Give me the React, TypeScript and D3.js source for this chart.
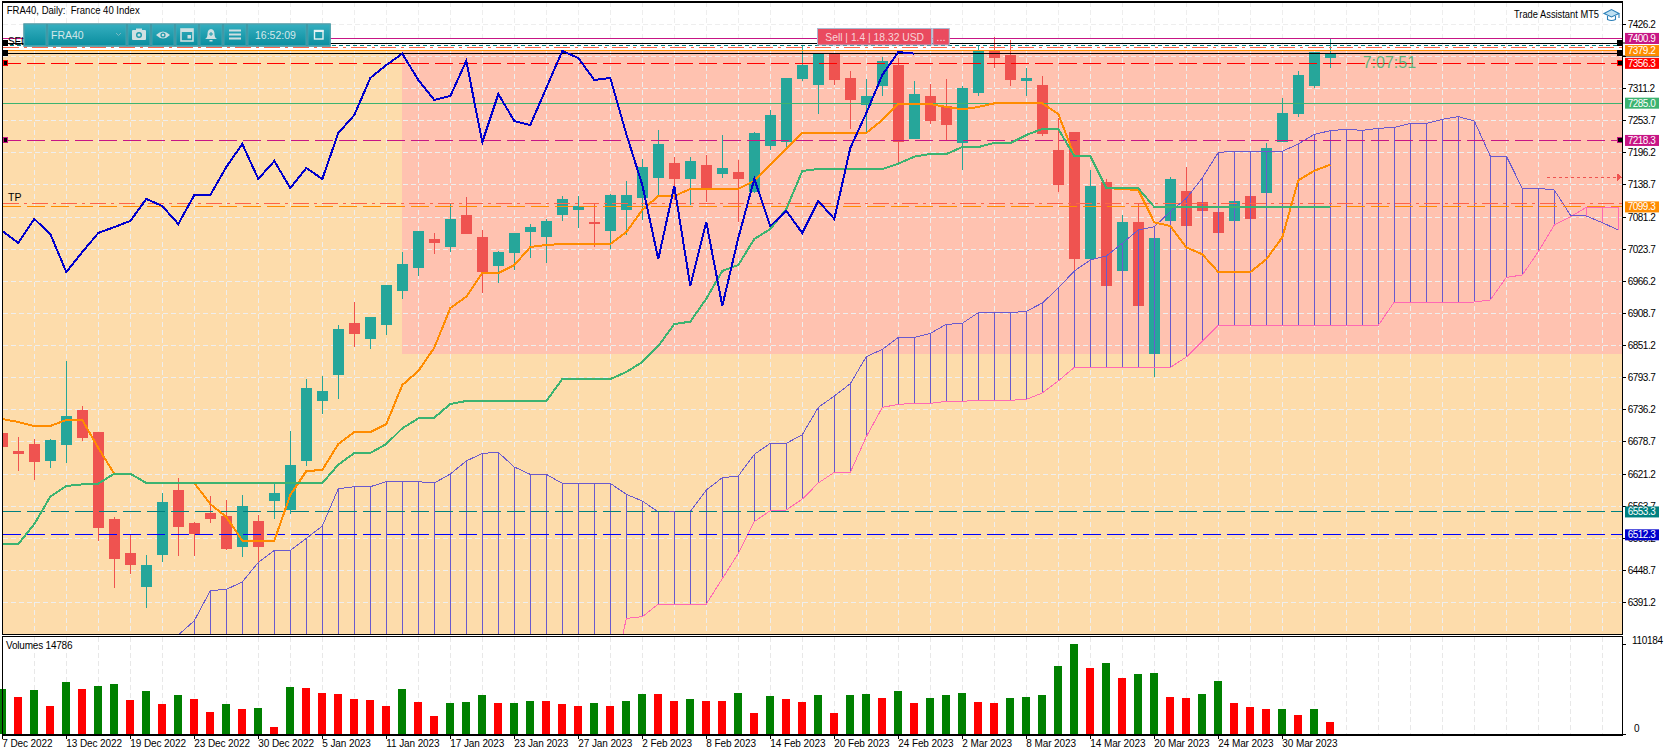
import * as d3 from 'd3';

const opens = [
  6694.5, 6662.3, 6674.8, 6644.4, 6673.0, 6735.7, 6696.3, 6540.6, 6479.7, 6418.8,
  6476.1, 6592.5, 6533.4, 6551.3, 6545.9, 6490.4, 6537.0, 6572.8, 6556.7, 6644.4,
  6751.8, 6798.3, 6891.4, 6862.8, 6887.8, 6948.8, 6989.9, 7041.9, 7027.6, 7084.8,
  7045.4, 6993.5, 7016.8, 7054.4, 7045.4, 7084.8, 7093.8, 7072.3, 7056.2, 7093.8,
  7115.3, 7151.1, 7177.9, 7149.3, 7174.3, 7158.2, 7161.8, 7126.6, 7208.3, 7215.5,
  7328.3, 7317.6, 7373.6, 7330.1, 7281.7, 7315.8, 7353.3, 7220.9, 7297.9, 7279.9,
  7213.7, 7303.2, 7379.0, 7371.2, 7324.7, 7317.6, 7201.2, 7233.4, 7006.1, 7143.9,
  6984.6, 7072.3, 6836.0, 7074.1, 7127.8, 7108.1, 7090.2, 7074.1, 7118.8, 7124.2,
  7215.5, 7265.6, 7315.8, 7366.5,
];
const highs = [
  6694.5, 6687.4, 6683.8, 6683.8, 6823.4, 6742.9, 6696.3, 6544.2, 6511.9, 6476.1,
  6587.1, 6614.0, 6535.2, 6581.7, 6574.6, 6583.5, 6547.7, 6603.2, 6698.1, 6791.2,
  6796.6, 6887.8, 6929.0, 6902.2, 6959.5, 7018.6, 7056.2, 7052.6, 7106.3, 7117.0,
  7058.0, 7020.4, 7052.6, 7068.7, 7077.7, 7118.8, 7118.8, 7106.3, 7122.4, 7145.7,
  7185.1, 7237.0, 7188.6, 7188.6, 7192.2, 7228.0, 7183.3, 7233.4, 7272.8, 7330.1,
  7389.1, 7373.6, 7375.4, 7342.6, 7328.3, 7367.7, 7365.9, 7324.7, 7319.3, 7328.3,
  7315.8, 7387.4, 7403.5, 7398.1, 7348.0, 7333.6, 7258.5, 7233.4, 7165.4, 7149.3,
  7084.8, 7104.5, 7043.7, 7152.9, 7170.8, 7108.1, 7090.2, 7109.9, 7118.8, 7213.7,
  7294.3, 7342.6, 7376.6, 7399.9,
];
const lows = [
  6669.4, 6626.5, 6610.4, 6631.9, 6640.8, 6680.2, 6501.2, 6417.0, 6442.1, 6381.2,
  6463.6, 6474.3, 6474.3, 6533.4, 6485.1, 6472.5, 6461.2, 6540.6, 6549.5, 6635.4,
  6728.5, 6755.4, 6848.5, 6844.9, 6870.0, 6934.5, 6975.6, 7015.0, 7018.6, 7050.8,
  6945.2, 6963.1, 6986.4, 7007.9, 6998.9, 7074.1, 7061.6, 7027.6, 7024.0, 7049.0,
  7075.9, 7117.6, 7111.7, 7102.7, 7108.1, 7151.1, 7072.3, 7123.6, 7201.2, 7204.2,
  7324.7, 7265.6, 7317.6, 7238.8, 7231.6, 7297.9, 7174.3, 7220.9, 7247.7, 7219.1,
  7165.4, 7297.9, 7348.0, 7315.8, 7297.9, 7226.2, 7126.0, 6980.4, 7006.1, 6957.7,
  6984.6, 6921.9, 6794.8, 7074.1, 7065.1, 7092.0, 7052.6, 7074.1, 7077.7, 7124.2,
  7215.5, 7260.3, 7312.2, 7348.0,
];
const closes = [
  6669.4, 6656.9, 6642.6, 6682.0, 6724.9, 6685.6, 6524.5, 6469.0, 6458.2, 6458.2,
  6571.0, 6526.2, 6513.7, 6540.6, 6486.9, 6563.8, 6490.4, 6587.1, 6637.2, 6775.1,
  6769.7, 6880.7, 6871.7, 6902.2, 6959.5, 6997.1, 7056.2, 7034.7, 7077.7, 7050.8,
  6982.8, 7018.6, 7052.6, 7063.3, 7074.1, 7113.5, 7100.9, 7068.7, 7120.6, 7120.6,
  7170.8, 7211.9, 7149.3, 7181.5, 7133.2, 7169.0, 7149.3, 7231.6, 7263.8, 7330.1,
  7353.3, 7373.6, 7326.5, 7290.7, 7297.9, 7360.5, 7215.5, 7301.4, 7253.1, 7245.9,
  7312.2, 7378.4, 7365.9, 7326.5, 7330.1, 7229.8, 7138.5, 7006.1, 7136.7, 6957.7,
  7072.3, 6921.9, 7043.7, 7149.3, 7065.1, 7092.0, 7052.6, 7109.9, 7077.7, 7204.8,
  7267.4, 7335.4, 7376.6, 7373.6,
];
const tenkan = [
  6719.6, 6714.3, 6707.1, 6707.1, 6717.9, 6717.9, 6667.7, 6621.8, 6621.8, 6605.1,
  6605.1, 6605.1, 6605.1, 6567.5, 6544.2, 6501.8, 6501.8, 6501.8, 6583.6, 6626.5,
  6628.4, 6674.9, 6696.4, 6696.4, 6710.7, 6780.5, 6805.6, 6847.3, 6918.3, 6938.6,
  6981.0, 6981.0, 6995.3, 7027.5, 7031.1, 7032.9, 7032.9, 7032.9, 7032.9, 7054.4,
  7093.8, 7118.8, 7118.8, 7131.4, 7131.4, 7131.4, 7131.4, 7145.7, 7174.3, 7202.9,
  7231.6, 7231.6, 7231.6, 7231.6, 7231.6, 7254.9, 7283.5, 7283.5, 7283.5, 7278.2,
  7274.0, 7278.2, 7284.7, 7284.7, 7284.7, 7284.7, 7265.6, 7191.0, 7191.0, 7133.1,
  7131.4, 7129.6, 7071.7, 7065.1, 7026.9, 7014.4, 6982.8, 6982.8, 6982.8, 7005.5,
  7044.8, 7146.9, 7164.2, 7174.9,
];
const kijun = [
  6495.9, 6495.9, 6531.7, 6580.6, 6599.7, 6602.7, 6603.9, 6621.8, 6621.8, 6605.1,
  6605.1, 6605.1, 6605.1, 6605.1, 6605.1, 6605.1, 6605.1, 6605.1, 6605.1, 6605.1,
  6605.1, 6637.9, 6658.8, 6658.8, 6674.9, 6703.0, 6720.8, 6722.0, 6746.5, 6751.9,
  6751.9, 6751.9, 6751.9, 6751.9, 6751.9, 6791.2, 6791.2, 6791.2, 6791.2, 6803.8,
  6821.7, 6850.3, 6889.7, 6893.9, 6935.0, 6984.6, 6995.3, 7041.9, 7059.8, 7095.6,
  7163.6, 7167.2, 7167.2, 7167.2, 7167.2, 7167.2, 7176.7, 7189.3, 7194.0, 7194.0,
  7206.5, 7206.5, 7213.7, 7213.7, 7228.0, 7238.8, 7238.8, 7190.4, 7190.4, 7133.2,
  7133.2, 7132.6, 7099.1, 7099.1, 7099.1, 7099.1, 7099.1, 7099.1, 7099.1, 7099.1,
  7099.1, 7099.1, 7099.1, 7099.1,
];
// lagging span, plotted from the first bar
const chikou = [
  7056.2, 7034.7, 7077.7, 7050.8, 6982.8, 7018.6, 7052.6, 7063.3, 7074.1, 7113.5,
  7100.9, 7068.7, 7120.6, 7120.6, 7170.8, 7211.9, 7149.3, 7181.5, 7133.2, 7169.0,
  7149.3, 7231.6, 7263.8, 7330.1, 7353.3, 7373.6, 7326.5, 7290.7, 7297.9, 7360.5,
  7215.5, 7301.4, 7253.1, 7245.9, 7312.2, 7378.4, 7365.9, 7326.5, 7330.1, 7229.8,
  7138.5, 7006.1, 7136.7, 6957.7, 7072.3, 6921.9, 7043.7, 7149.3, 7065.1, 7092.0,
  7052.6, 7109.9, 7077.7, 7204.8, 7267.4, 7335.4, 7376.6, 7373.6,
];
// both cloud spans start at bar 11
const cloudStart = 11;
const spanA = [
  6333.0, 6358.6, 6412.4, 6414.7, 6427.9, 6463.1, 6484.5, 6484.5, 6506.0, 6528.1,
  6594.9, 6598.5, 6598.5, 6607.5, 6607.5, 6607.5, 6605.1, 6621.2, 6644.5, 6658.2,
  6660.0, 6633.7, 6620.6, 6620.6, 6604.5, 6604.5, 6604.5, 6604.5, 6584.8, 6572.9,
  6553.2, 6553.2, 6554.4, 6592.5, 6614.6, 6617.6, 6656.4, 6676.1, 6676.1, 6691.6,
  6740.5, 6760.8, 6782.9, 6831.2, 6844.4, 6865.8, 6865.8, 6873.0, 6889.1, 6890.9,
  6910.0, 6910.0, 6910.0, 6912.4, 6927.3, 6954.1, 6984.6, 7004.3, 7011.4, 7034.1,
  7058.0, 7063.9, 7090.8, 7114.6, 7151.1, 7197.0, 7198.8, 7198.8, 7198.8, 7198.8,
  7211.9, 7229.2, 7235.8, 7238.2, 7236.4, 7239.9, 7241.7, 7248.9, 7248.9, 7256.1,
  7260.9, 7253.1, 7190.4, 7190.4, 7132.6, 7132.6, 7129.6, 7084.8, 7083.0, 7071.1,
  7058.0,
];
const spanB = [
  6227, 6227, 6227, 6227, 6227, 6227, 6227, 6227, 6227, 6227,
  6227, 6227, 6227, 6227, 6227, 6227, 6227, 6227, 6227, 6227,
  6227, 6227, 6227, 6227, 6227, 6227, 6227, 6227, 6362.8, 6365.8,
  6388.5, 6388.5, 6388.5, 6388.5, 6433.8, 6479.2, 6535.9, 6555.6, 6556.8, 6576.4,
  6605.1, 6624.2, 6624.2, 6688.0, 6740.5, 6745.9, 6747.7, 6747.7, 6751.3, 6751.3,
  6753.1, 6753.1, 6753.1, 6754.9, 6766.2, 6787.7, 6812.1, 6812.1, 6812.1, 6812.1,
  6812.1, 6812.1, 6812.1, 6830.6, 6858.7, 6887.3, 6887.3, 6887.3, 6887.3, 6887.3,
  6887.3, 6887.3, 6887.3, 6887.3, 6887.3, 6887.3, 6929.1, 6929.1, 6929.1, 6929.1,
  6929.1, 6929.1, 6932.7, 6973.2, 6977.4, 7019.2, 7066.9, 7081.2, 7098.6, 7098.6,
  7098.6,
];
const volumes = [
  55080, 45288, 53856, 34272, 63648, 55080, 58752, 61200, 41616, 52632,
  36720, 47736, 42840, 26928, 36720, 30600, 31824, 8568, 57528, 56304,
  50184, 48960, 42840, 41616, 34272, 55080, 39168, 22032, 37944, 39168,
  47736, 37944, 37944, 40392, 40000, 36720, 34272, 37944, 34272, 40392,
  48960, 48500, 40392, 42840, 40392, 40000, 50184, 25704, 46512, 42840,
  39168, 47736, 25704, 47736, 48960, 44064, 52632, 37944, 44064, 47736,
  50184, 39168, 37944, 44064, 45288, 47736, 83232, 110184, 80784, 86904,
  68544, 73440, 74664, 45288, 44064, 48960, 64872, 37944, 33048, 30600,
  31000, 23256, 30600, 14786,
];
const priceTicks = [
  7426.2, 7368.7, 7311.2, 7253.7, 7196.2, 7138.7, 7081.2, 7023.7, 6966.2, 6908.7,
  6851.2, 6793.7, 6736.2, 6678.7, 6621.2, 6563.7, 6506.2, 6448.7, 6391.2,
];
// this tick sits fully under the level tags
const hiddenTick = 7368.7;
const dateLabels = [
  '7 Dec 2022', '13 Dec 2022', '19 Dec 2022', '23 Dec 2022', '30 Dec 2022', '5 Jan 2023', '11 Jan 2023',
  '17 Jan 2023', '23 Jan 2023', '27 Jan 2023', '2 Feb 2023', '8 Feb 2023', '14 Feb 2023', '20 Feb 2023',
  '24 Feb 2023', '2 Mar 2023', '8 Mar 2023', '14 Mar 2023', '20 Mar 2023', '24 Mar 2023', '30 Mar 2023',
];
const gridBars = d3.range(0, 102, 2);
const sellPrice = 7400.9;
const tradeOpen = 7392.7;
const slTeal = 7388.6;
const slTomato = 7385.0;
const askPrice = 7379.2;
const bidPrice = 7374.2;
const stopPrice = 7356.3;
const greenLevel = 7285.0;
const pinkLevel = 7218.3;
const tpTomato = 7105.7;
const tpPrice = 7099.3;
const tealLevel = 6553.3;
const blueLevel = 6512.3;
const zoneTop = 7379.2;
const zoneBottom = 6836.6;
const zoneBar = 25;

const W = 1670;
const H = 753;
const LEFT = 2.5;
const RIGHT = 1622.5;
const MAIN_BOTTOM = 634.3;
const VOL_TOP = 636.5;
const VOL_BOTTOM = 735;

const TEAL = '#26a69a';
const RED = '#ef5350';
const FONT = '"Liberation Sans", Arial, sans-serif';

const x = d3.scaleLinear().domain([0, 100]).range([2.3, 1602.3]);
const y = d3.scaleLinear().domain([7426.2, 6391.2]).range([24.3, 602.5]);
const vy = d3.scaleLinear().domain([0, 110184]).range([734, 644]);

const seriesPath = (values: number[], start = 0) =>
  d3
    .line<number>()
    .x((_, i) => x(i + start))
    .y((d) => y(d))(values) ?? '';

type Level = { value: number; color: string; dash?: string };

const levels: Level[] = [
  { value: sellPrice, color: '#c71585' },
  { value: tradeOpen, color: '#000000' },
  { value: slTeal, color: '#008080', dash: '4 3' },
  { value: slTomato, color: '#ff6347', dash: '16 5 3 5' },
  { value: askPrice, color: '#ff8c00' },
  { value: bidPrice, color: '#000000' },
  { value: stopPrice, color: '#ff0000', dash: '18 6' },
  { value: greenLevel, color: '#3cb371' },
  { value: pinkLevel, color: '#c71585', dash: '18 6' },
  { value: tpTomato, color: '#ff6347', dash: '16 5 3 5' },
  { value: tpPrice, color: '#ff8c00', dash: '18 6' },
  { value: tealLevel, color: '#008080', dash: '18 6' },
  { value: blueLevel, color: '#0000ff', dash: '18 6' },
];

const tags = [
  { value: sellPrice, color: '#c71585' },
  { value: askPrice, color: '#ff8c00' },
  { value: stopPrice, color: '#ff0000' },
  { value: greenLevel, color: '#3cb371' },
  { value: pinkLevel, color: '#c71585' },
  { value: tpPrice, color: '#ff8c00' },
  { value: tealLevel, color: '#008080' },
  { value: blueLevel, color: '#0000cd' },
];

const markers = [
  { value: tradeOpen, border: '#000000' },
  { value: bidPrice, border: '#000000' },
  { value: stopPrice, border: '#ff0000' },
  { value: pinkLevel, border: '#c71585' },
];

const toolButtons = [
  [24.7, 21.3],
  [48, 78],
  [128, 22],
  [152, 22],
  [176, 22],
  [200, 22],
  [224, 22],
  [248, 58],
  [308, 22],
];

function Toolbar() {
  const ic = '#cfe0e2';
  return (
    <g fontFamily={FONT}>
      <rect x={23.3} y={23.3} width={307.5} height={23.5} fill="#3d8f9c" />
      {toolButtons.map(([bx, bw]) => (
        <rect key={bx} x={bx} y={24.5} width={bw} height={21} fill="url(#toolGrad)" stroke="#4aa7b4" strokeWidth={0.8} />
      ))}
      <text x={51} y={38.5} fontSize={10.5} fill="#d4e8ea">FRA40</text>
      <path d="M116 33l2.5 2.5 2.5-2.5" fill="none" stroke="#79b9c2" strokeWidth={1} />
      {/* camera */}
      <rect x={132} y={30} width={14} height={10} rx={1} fill={ic} />
      <rect x={136} y={28.5} width={6} height={2} fill={ic} />
      <circle cx={139} cy={35} r={3} fill="#1d9aaa" />
      <circle cx={139} cy={35} r={1.6} fill={ic} />
      {/* eye */}
      <path d="M156 35q7-7 14 0q-7 7-14 0z" fill={ic} />
      <circle cx={163} cy={35} r={2.6} fill="#1d9aaa" />
      <circle cx={163} cy={35} r={1.3} fill={ic} />
      {/* calendar */}
      <rect x={181} y={29} width={12} height={12} fill="none" stroke={ic} strokeWidth={1.6} />
      <rect x={181} y={29} width={12} height={3} fill={ic} />
      <rect x={187.5} y={35} width={3.5} height={3.5} fill={ic} />
      {/* bell */}
      <path d="M205 39q2.5-1 2.5-5q0-4.5 3.5-5q3.500 .5 3.500 5q0 4 2.500 5z" fill={ic} />
      <rect x={209.5} y={40} width={3} height={1.5} fill={ic} />
      <path d="M211 32v4M209 34h4" stroke="#1d9aaa" strokeWidth={1} />
      {/* menu */}
      <path d="M229 30.5h12M229 34.5h12M229 38.5h12" stroke={ic} strokeWidth={1.8} />
      <text x={255} y={38.5} fontSize={10.5} fill="#d4e8ea">16:52:09</text>
      {/* window */}
      <rect x={314.5} y={30.5} width={8.5} height={8.5} fill="none" stroke="#e6f2f3" strokeWidth={1.4} />
      <rect x={314} y={30} width={9.5} height={2} fill="#e6f2f3" />
    </g>
  );
}

export default function App() {
  const mainBars = closes.map((c, i) => ({ c, o: opens[i], h: highs[i], l: lows[i], i }));

  return (
    <svg
      width={W}
      height={H}
      viewBox={`0 0 ${W} ${H}`}
      style={{ position: 'absolute', left: 0, top: 0, background: '#fff', display: 'block' }}
      fontFamily={FONT}
    >
      <defs>
        <clipPath id="mainClip">
          <rect x={LEFT} y={2} width={RIGHT - LEFT} height={MAIN_BOTTOM - 2} />
        </clipPath>
        <linearGradient id="toolGrad" x1="0" y1="0" x2="0" y2="1">
          <stop offset="0" stopColor="#35aebf" />
          <stop offset="1" stopColor="#0a8e9f" />
        </linearGradient>
      </defs>

      <g clipPath="url(#mainClip)" shapeRendering="crispEdges">
        {/* zones */}
        <rect x={LEFT} y={y(zoneTop)} width={RIGHT - LEFT} height={MAIN_BOTTOM - y(zoneTop)} fill="#fddcab" />
        <rect x={x(zoneBar)} y={y(zoneTop)} width={RIGHT - x(zoneBar)} height={y(zoneBottom) - y(zoneTop)} fill="#ffc2b0" />

        {/* grid */}
        {priceTicks.map((t) => (
          <line key={t} x1={LEFT} x2={RIGHT} y1={y(t)} y2={y(t)} stroke="#eeeeee" strokeDasharray="5 3" />
        ))}
        {gridBars.map((b) => (
          <line key={b} x1={x(b)} x2={x(b)} y1={2} y2={MAIN_BOTTOM} stroke="#eeeeee" strokeDasharray="5 3" />
        ))}

        {/* candles */}
        {mainBars.map((b) => {
          const color = b.c >= b.o ? TEAL : RED;
          return (
            <g key={b.i} fill={color} stroke={color}>
              <line x1={x(b.i)} x2={x(b.i)} y1={y(b.h)} y2={y(b.l)} strokeWidth={1} />
              <rect
                x={x(b.i) - 5.5}
                y={y(Math.max(b.o, b.c))}
                width={11}
                height={Math.max(1, Math.abs(y(b.o) - y(b.c)))}
                stroke="none"
              />
            </g>
          );
        })}

        {/* cloud */}
        {spanA.map((a, i) => {
          const b = spanB[i];
          return (
            <line
              key={i}
              x1={x(i + cloudStart)}
              x2={x(i + cloudStart)}
              y1={y(a)}
              y2={y(b)}
              stroke={a >= b ? '#6a5acd' : '#ff69b4'}
              strokeWidth={1}
            />
          );
        })}
        <path d={seriesPath(spanB.slice(27), cloudStart + 27)} fill="none" stroke="#ff69b4" strokeWidth={1} />
        <path d={seriesPath(spanA, cloudStart)} fill="none" stroke="#6a5acd" strokeWidth={1} />

        {/* price levels */}
        {levels.map((l) => (
          <line
            key={`${l.value}-${l.color}`}
            x1={LEFT}
            x2={RIGHT}
            y1={y(l.value)}
            y2={y(l.value)}
            stroke={l.color}
            strokeWidth={1}
            strokeDasharray={l.dash}
          />
        ))}

        <path d={seriesPath(tenkan)} fill="none" stroke="#ff8c00" strokeWidth={2} />
        <path d={seriesPath(kijun)} fill="none" stroke="#3cb371" strokeWidth={2} />
        <path d={seriesPath(chikou)} fill="none" stroke="#0000cd" strokeWidth={2} />

        {/* tp arrow */}
        <line x1={1546.7} x2={1617} y1={177.3} y2={177.3} stroke="#ef5350" strokeDasharray="3 3" />
        <path d="M1617 173.3l5 4-5 4z" fill="#ef5350" />

        {/* line anchors */}
        {markers.map((m) =>
          [LEFT, RIGHT - 5.5].map((mx) => (
            <rect
              key={`${m.value}-${mx}`}
              x={mx + 0.5}
              y={y(m.value) - 2.5}
              width={4.5}
              height={4.5}
              fill="#000"
              stroke={m.border}
            />
          )),
        )}
      </g>

      {/* text on the chart */}
      <text x={8} y={45} fontSize={10} letterSpacing={-0.2} fill="#000">SELL</text>
      <text x={8} y={201} fontSize={10.5} fill="#000">TP</text>
      <text x={6.7} y={14} fontSize={10.5} fill="#000" textLength={133} lengthAdjust="spacingAndGlyphs" style={{ whiteSpace: 'pre' }}>
        FRA40, Daily:  France 40 Index
      </text>
      <text x={1514} y={17.5} fontSize={10.5} fill="#000" textLength={85} lengthAdjust="spacingAndGlyphs">
        Trade Assistant MT5
      </text>
      <g fill="none" stroke="#2b7fb8" strokeWidth={1.1}>
        <path d="M1604 13.5l7.5-4 7.500 4-7.500 3.500z" fill="#bfe0f2" />
        <path d="M1607.5 16v3.5q4 2 8 0v-3.500" />
        <path d="M1619 14v4" />
      </g>
      <text x={1362.7} y={67.5} fontSize={16} fill="#3cb371" fillOpacity={0.85}>7:07:51</text>

      {/* sell button */}
      <rect x={817.5} y={28.5} width={114} height={16.5} fill="#ea4a5f" stroke="#aab8d0" />
      <rect x={932.8} y={28.5} width={16.5} height={16.5} fill="#ea4a5f" stroke="#aab8d0" />
      <text x={825.3} y={41} fontSize={11.5} fill="#f7d5da" textLength={98.7} lengthAdjust="spacingAndGlyphs">
        Sell | 1.4 | 18.32 USD
      </text>
      <text x={941} y={41} fontSize={11.5} fill="#f7d5da" textAnchor="middle">...</text>

      <Toolbar />

      {/* volumes */}
      <g shapeRendering="crispEdges">
        {gridBars.map((b) => (
          <line key={b} x1={x(b)} x2={x(b)} y1={VOL_TOP} y2={VOL_BOTTOM} stroke="#e8e8e8" strokeDasharray="5 3" />
        ))}
        {volumes.map((v, i) => (
          <rect
            key={i}
            x={x(i) - 4}
            y={vy(v)}
            width={8}
            height={vy(0) - vy(v)}
            fill={i === 0 || v >= volumes[i - 1] ? '#008000' : '#ff0000'}
          />
        ))}
      </g>
      <text x={6} y={649} fontSize={10} fill="#000" letterSpacing={-0.2}>Volumes 14786</text>

      {/* frame */}
      <g fill="none" stroke="#000" shapeRendering="crispEdges">
        <rect x={LEFT} y={2} width={RIGHT - LEFT} height={MAIN_BOTTOM - 2} strokeWidth={1.2} />
        <rect x={LEFT} y={VOL_TOP} width={RIGHT - LEFT} height={VOL_BOTTOM - VOL_TOP} strokeWidth={1.2} />
      </g>

      {/* price axis */}
      {priceTicks.map((t) => (
        <g key={t}>
          <line x1={RIGHT} x2={RIGHT + 3.5} y1={y(t)} y2={y(t)} stroke="#000" shapeRendering="crispEdges" />
          {t !== hiddenTick && (
            <text x={1627.7} y={y(t) + 3.5} fontSize={10} letterSpacing={-0.5} fill="#000">{d3.format('.1f')(t)}</text>
          )}
        </g>
      ))}
      {[vy(0), vy(110184)].map((ty) => (
        <line key={ty} x1={RIGHT} x2={RIGHT + 3.5} y1={ty} y2={ty} stroke="#000" shapeRendering="crispEdges" />
      ))}
      <text x={1632} y={vy(110184)} fontSize={10} letterSpacing={-0.3} fill="#000">110184</text>
      <text x={1634} y={vy(0) - 2} fontSize={10} fill="#000">0</text>

      {/* level tags */}
      <line x1={RIGHT} x2={1659} y1={y(tradeOpen)} y2={y(tradeOpen)} stroke="#000" />
      <line x1={RIGHT} x2={1659} y1={56} y2={56} stroke="#000" />
      {tags.map((t) => (
        <g key={`${t.value}-tag`}>
          <rect x={1625} y={y(t.value) - 5.5} width={34} height={11} fill={t.color} />
          <text x={1627.7} y={y(t.value) + 3.5} fontSize={10} letterSpacing={-0.5} fill="#fff">{t.value.toFixed(1)}</text>
        </g>
      ))}

      {/* time axis */}
      {dateLabels.map((label, i) => (
        <g key={label}>
          <line x1={x(i * 4)} x2={x(i * 4)} y1={VOL_BOTTOM} y2={VOL_BOTTOM + 4} stroke="#000" shapeRendering="crispEdges" />
          <text x={x(i * 4)} y={747} fontSize={10} letterSpacing={-0.1} fill="#000">{label}</text>
        </g>
      ))}
    </svg>
  );
}
